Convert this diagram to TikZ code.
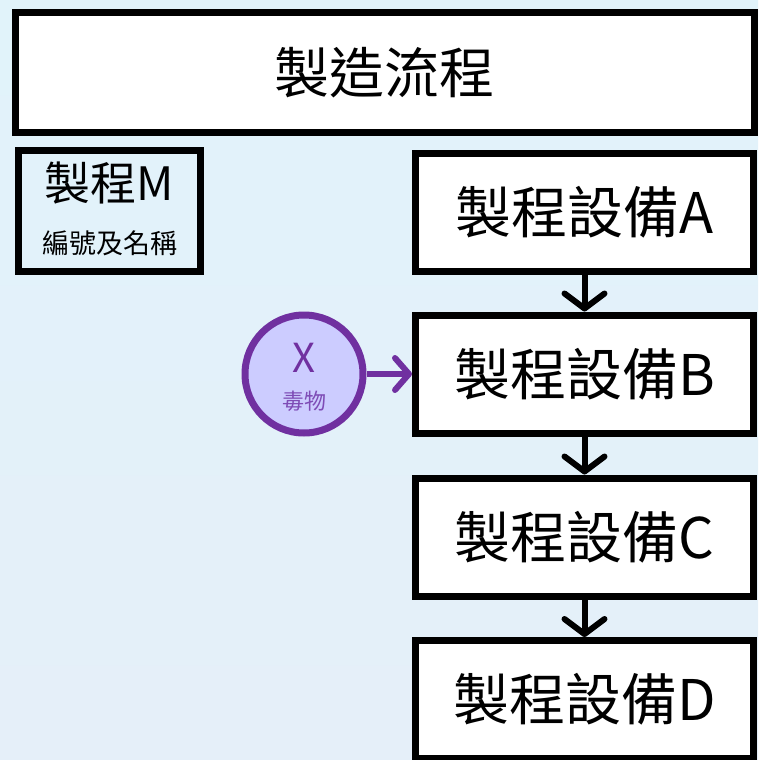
\documentclass[tikz,border=0pt]{standalone}
\usepackage{fontspec}
\setmainfont{Noto Sans CJK TC}
\usetikzlibrary{arrows.meta}
\definecolor{bgtop}{HTML}{E1F3FA}
\definecolor{bgbot}{HTML}{E5EFF9}
\definecolor{purp}{HTML}{7030A0}
\definecolor{lav}{HTML}{CCCCFF}
\definecolor{ptext}{HTML}{7E4CB6}
\tikzset{
  boxstyle/.style={draw=black, line width=7pt, fill=white, inner sep=0pt},
  flowarrow/.style={line width=6pt, -{Straight Barb[length=15pt, width=40pt, round]}},
  purparrow/.style={draw=purp, line width=6pt, -{Straight Barb[length=14pt, width=32pt, round]}},
}
\begin{document}
\begin{tikzpicture}[x=1pt, y=-1pt]
  \shade[top color=bgtop, bottom color=bgbot] (0,0) rectangle (758,760);
  \useasboundingbox (0,0) rectangle (758,760);
  % title
  \node[boxstyle, minimum width=739pt, minimum height=119pt] (title) at (384.5,72.5)
    {\fontsize{55}{55}\selectfont 製造流程};
  % legend box
  \node[draw=black, line width=7pt, inner sep=0pt, minimum width=182pt, minimum height=121pt] (legend) at (109.5,211) {};
  \node (legendA) at (109.5,183) {\fontsize{46}{46}\selectfont 製程M};
  \node (legendB) at (109.5,243) {\fontsize{27}{27}\selectfont 編號及名稱};
  % process boxes
  \node[boxstyle, minimum width=338pt, minimum height=118pt] (A) at (584.5,212)
    {\fontsize{56}{56}\selectfont 製程設備A};
  \node[boxstyle, minimum width=338pt, minimum height=118pt] (B) at (584.5,374)
    {\fontsize{56}{56}\selectfont 製程設備B};
  \node[boxstyle, minimum width=338pt, minimum height=118pt] (C) at (584.5,537)
    {\fontsize{56}{56}\selectfont 製程設備C};
  \node[boxstyle, minimum width=338pt, minimum height=118pt] (D) at (584.5,699.5)
    {\fontsize{56}{56}\selectfont 製程設備D};
  \draw[flowarrow] (A.south) -- (B.north);
  \draw[flowarrow] (B.south) -- (C.north);
  \draw[flowarrow] (C.south) -- (D.north);
  % toxin circle
  \node[circle, draw=purp, fill=lav, line width=7pt, minimum size=118pt, inner sep=0pt] (X) at (304,374) {};
  \node[text=purp] (Xl) at (304,358) {\fontsize{40}{40}\selectfont X};
  \node[text=ptext] (Xs) at (304,401) {\fontsize{22}{22}\selectfont 毒物};
  \draw[purparrow] (X.east) -- (B.west);
\end{tikzpicture}
\end{document}
